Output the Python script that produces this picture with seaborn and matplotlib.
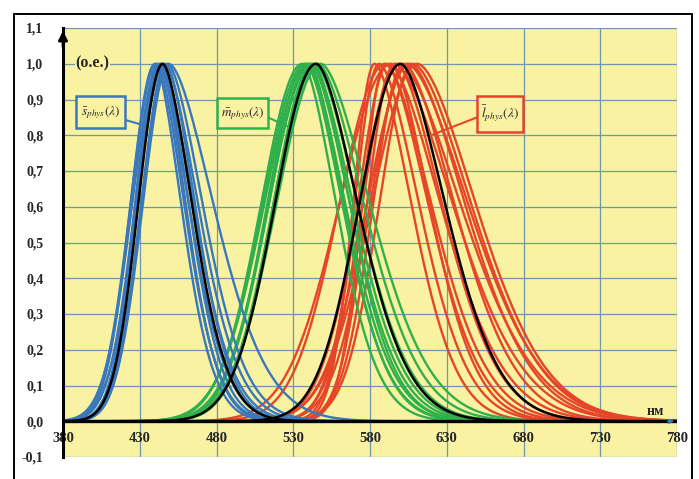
import numpy as np
import pandas as pd
import matplotlib
matplotlib.use("Agg")
import matplotlib.pyplot as plt
from matplotlib.patches import Rectangle
import seaborn as sns

# Peak wavelength (nm) and left / right spreads (nm) of every sensitivity curve
s_peak = [440, 441, 442, 443, 444, 444, 446, 447, 448, 449]
s_left = [16, 17, 15, 18, 16, 17, 18, 16, 17, 17]
s_right = [17, 18, 20, 17, 21, 18, 22, 19, 23, 29]

m_peak = [536, 538, 539, 540, 541, 542, 543, 544, 546, 548]
m_left = [27, 28, 26, 29, 27, 28, 26, 27, 28, 29]
m_right = [22, 24, 25, 23, 26, 27, 24, 28, 30, 32]

l_peak = [583, 586, 590, 590, 592, 594, 596, 597, 599, 602, 604, 606, 608, 611]
l_left = [14, 16, 30, 15, 20, 34, 18, 22, 26, 20, 24, 28, 22, 30]
l_right = [24, 26, 30, 28, 34, 25, 38, 30, 40, 33, 40, 36, 38, 38]

# Averaged curves, drawn in black
avg_peak = [445, 545, 600]
avg_left = [16, 27, 27]
avg_right = [19, 27, 29]

# shape exponents of the rising and falling edges (2 is a plain Gaussian)
rise_k = 2.0
fall_k = 1.7

x_ticks = [380, 430, 480, 530, 580, 630, 680, 730, 780]
y_ticks = [-0.1, 0.0, 0.1, 0.2, 0.3, 0.4, 0.5, 0.6, 0.7, 0.8, 0.9, 1.0, 1.1]
y_tick_labels = ["-0,1", "0,0", "0,1", "0,2", "0,3", "0,4", "0,5",
                 "0,6", "0,7", "0,8", "0,9", "1,0", "1,1"]

family_labels = {"s": r"$\bar{s}_{phys}(\lambda)$",
                 "m": r"$\bar{m}_{phys}(\lambda)$",
                 "l": r"$\bar{l}_{phys}(\lambda)$"}
palette = {"s": "#3a78bd", "m": "#2fb04c", "l": "#e6452a"}

wl = np.arange(380.0, 781.0, 1.0)


def band(peak, left, right):
    d = wl - peak
    spread = np.where(d < 0, left, right)
    k = np.where(d < 0, rise_k, fall_k)
    return np.exp(-0.5 * np.abs(d / spread) ** k)


frames = []
for fam, (pk, lf, rt) in {"l": (l_peak, l_left, l_right),
                          "m": (m_peak, m_left, m_right),
                          "s": (s_peak, s_left, s_right)}.items():
    for i, (p, a, b) in enumerate(zip(pk, lf, rt)):
        frames.append(pd.DataFrame({"wl": wl, "v": band(p, a, b),
                                    "family": fam, "curve": f"{fam}{i}"}))
df = pd.concat(frames, ignore_index=True)

avg_frames = []
for i, (p, a, b) in enumerate(zip(avg_peak, avg_left, avg_right)):
    avg_frames.append(pd.DataFrame({"wl": wl, "v": band(p, a, b), "curve": f"avg{i}"}))
df_avg = pd.concat(avg_frames, ignore_index=True)

sns.set_style("white")
plt.rcParams["font.family"] = ["Liberation Serif", "DejaVu Serif"]
plt.rcParams["mathtext.fontset"] = "stix"

fig = plt.figure(figsize=(6.99, 4.79), dpi=100)
ax = fig.add_axes([63 / 699, 1 - 457 / 479, (677 - 63) / 699, (457 - 28) / 479])
ax.set_facecolor("#f8f2a2")

sns.lineplot(data=df, x="wl", y="v", hue="family", units="curve", estimator=None,
             hue_order=["l", "m", "s"], palette=palette, lw=1.7, legend=False,
             sort=False, ax=ax, zorder=3)
sns.lineplot(data=df_avg, x="wl", y="v", units="curve", estimator=None,
             color="black", lw=1.8, legend=False, sort=False, ax=ax, zorder=4)

ax.set_xlim(380, 780)
ax.set_ylim(-0.1, 1.1)
ax.set_xlabel("")
ax.set_ylabel("")

ax.set_axisbelow(True)
ax.grid(True, color="#6d98ad", lw=0.9)
ax.set_xticks(x_ticks)
ax.set_xticklabels([str(t) for t in x_ticks])
ax.set_yticks(y_ticks)
ax.set_yticklabels(y_tick_labels)
ax.tick_params(axis="x", length=0, pad=-18, labelsize=10.5)
ax.tick_params(axis="y", length=0, pad=14, labelsize=10)
for lab in ax.get_xticklabels() + ax.get_yticklabels():
    lab.set_fontweight("bold")

for side in ["top", "right", "bottom"]:
    ax.spines[side].set_visible(False)
ax.spines["left"].set_color("black")
ax.spines["left"].set_linewidth(2.2)
ax.spines["left"].set_zorder(6)

# horizontal axis along zero and the axis arrows
ax.axhline(0, color="black", lw=2.4, zorder=5)
ax.annotate("", xy=(380, 1.1), xytext=(380, 1.04),
            arrowprops=dict(arrowstyle="-|>", color="black", lw=2, mutation_scale=13),
            annotation_clip=False, zorder=7)
ax.annotate("", xy=(780, 0), xytext=(772, 0),
            arrowprops=dict(arrowstyle="-|>", color="#3a78bd", lw=1, mutation_scale=7),
            annotation_clip=False, zorder=7)

ax.text(766, 0.028, "нм", fontsize=10, fontweight="bold", ha="center", va="center", zorder=8)
ax.text(388, 1.0, "(o.e.)", fontsize=11.5, fontweight="bold", ha="left", va="center",
        zorder=8, bbox=dict(facecolor="#f8f2a2", edgecolor="none", pad=0.5))

# labelled boxes with leader lines
boxes = [("s", (388.5, 0.820), 31.9, 0.089, [(420.4, 0.843), (433.4, 0.827)]),
         ("m", (480.3, 0.820), 33.2, 0.083, [(513.5, 0.850), (526.6, 0.824)]),
         ("l", (649.7, 0.810), 30.0, 0.099, [(649.7, 0.850), (621.0, 0.802)])]
for fam, (x0, y0), w, h, line in boxes:
    col = palette[fam]
    ax.add_patch(Rectangle((x0, y0), w, h, facecolor="#f8f2a2", edgecolor=col,
                           lw=1.8, zorder=8))
    ax.plot([line[0][0], line[1][0]], [line[0][1], line[1][1]], color=col, lw=1.5, zorder=7)
    ax.text(x0 + w / 2, y0 + h / 2, family_labels[fam], fontsize=9.5, ha="center",
            va="center", zorder=9)

# frame round the figure
fig.add_artist(Rectangle((14 / 699, -0.02), (692 - 14) / 699, 1 - 14 / 479 + 0.02,
                         transform=fig.transFigure, fill=False, edgecolor="black", lw=1.4))

fig.savefig("out.png", dpi=100)
